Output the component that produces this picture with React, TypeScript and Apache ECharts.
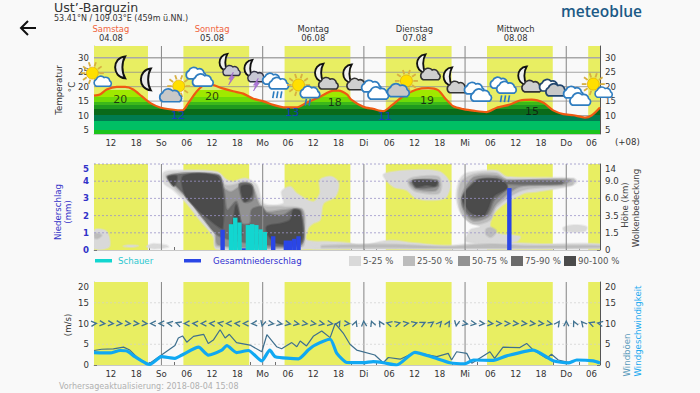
import React, { useEffect, useRef } from "react";
import * as echarts from "echarts";

const FONT = "'DejaVu Sans', sans-serif";
const hourTicks = [9, 12, 15, 18, 21, 24, 27, 30, 33, 36, 39, 42, 45, 48, 51, 54, 57, 60, 63, 66, 69, 72, 75, 78, 81, 84, 87, 90, 93, 96, 99, 102, 105, 108, 111, 114, 117, 120, 123, 126];
const hourLabelValues = [12, 18, 24, 30, 36, 42, 48, 54, 60, 66, 72, 78, 84, 90, 96, 102, 108, 114, 120, 126];
const hourLabels = ["12", "18", "So", "06", "12", "18", "Mo", "06", "12", "18", "Di", "06", "12", "18", "Mi", "06", "12", "18", "Do", "06"];
const midnights = [24, 48, 72, 96, 120];
const dayBands = [[8, 20.8], [29.2, 44.8], [53.2, 68.8], [77.2, 92.8], [101.2, 116.8], [125.2, 128]];
const dayNoon = [12, 36, 60, 84, 108];
const dayNames = ["Samstag", "Sonntag", "Montag", "Dienstag", "Mittwoch"];
const dayDates = ["04.08", "05.08", "06.08", "07.08", "08.08"];

const tempTicks = [5, 10, 15, 20, 25, 30];
const temperature = [[8, 16.9], [9.4, 17.3], [11, 19], [13.4, 19.9], [15.4, 19.9], [17.3, 19], [19.3, 16.7], [21.3, 14.4], [23.7, 12.8], [26.4, 12.1], [29, 11.8], [30.4, 14.4], [32.4, 18.4], [34, 20.4], [35.9, 20.6], [38.3, 19.5], [41, 18.4], [43.4, 17.6], [45.8, 15.8], [48.2, 14.9], [50.5, 13.7], [53.3, 12.8], [56, 12.8], [58.4, 14.4], [61.6, 16.5], [64.8, 18.6], [66, 18.6], [68, 17.3], [69, 15.5], [71.9, 13], [74.2, 12.3], [76.6, 11.5], [78.6, 13.5], [81.3, 16.7], [84.5, 19], [87.3, 19.5], [89.6, 18.8], [91.2, 16.1], [93.2, 13.2], [95.6, 12.2], [98.3, 11.6], [101.1, 11.2], [103.5, 12.7], [106.6, 13.8], [109, 15.2], [111.8, 15.5], [114.6, 14.4], [116.9, 11.8], [119.3, 10.5], [121.7, 10.1], [124.4, 9.3], [126, 10], [128, 12.8]];
const tempBandEdges = [3.6, 5, 8, 10.3, 12.4, 13.5, 14.6, 16.5, 19, 35];
const tempBandColors = ["#1cc41c", "#00bf64", "#007c50", "#0a6a1a", "#1f9a1f", "#3cb81a", "#6edb08", "#9fe900", "#d4f07a"];
const tempMarks = [[14.2, 15.6, "20", "#111"], [27.9, 10, "12", "#1a30e0"], [36, 16.6, "20", "#111"], [55, 11, "13", "#1a30e0"], [65.1, 14.5, "18", "#111"], [77, 9.7, "11", "#1a30e0"], [87, 15.2, "19", "#111"], [111.9, 11.4, "15", "#111"]];

const iconHours = [8.7, 14.2, 20.3, 27, 33, 39.8, 45.7, 51, 57.6, 62.5, 69.2, 74.6, 81, 86.7, 93, 99, 105, 110.7, 116.8, 122.5, 127.5];
const iconLevels = [23.5, 26.7, 22.5, 19, 23.5, 26, 23.9, 20.8, 19, 22.8, 22.5, 19, 20.8, 26, 21.5, 18.3, 19.4, 21.8, 19.7, 16.9, 19.7];
const iconKinds = ["sunCloud", "moon", "moon", "sunGray", "clouds", "moonBolt", "moonBolt", "cloudsRain", "sunRain", "moonCloud", "moonCloud", "clouds", "sunGray", "moonCloud", "moonCloud", "clouds", "cloudsRain", "moonCloud", "cloudsDark", "clouds", "sunCloud"];

const heightLevels = ["0", "1.5", "3.5", "6.0", "9.0", "14"];
const showerHours = [40, 41, 42, 44, 45, 46, 47, 48];
const showerValues = [1.5, 1.88, 1.6, 1.45, 1.5, 1.45, 1.2, 1.05];
const totalHours = [38, 43, 50, 53, 54, 55, 56, 106];
const totalValues = [1.18, 0.1, 0.8, 0.55, 0.55, 0.65, 0.8, 3.6];

// cloud cover contours: [hour, level on the 0–5 axis]
const cloud5to25 = [
  [[24.4, 4.46], [26, 4.61], [37.1, 4.55], [39.5, 4.07], [41, 3.97], [43.8, 4.17], [46.6, 3.78], [48.2, 2.71], [52.9, 2.71], [52.5, 3.39], [54.5, 3.68], [56.1, 3.29], [60, 2.81], [61.6, 3.29], [61.6, 4.07], [64.4, 4.26], [66, 3.88], [65.2, 3.1], [62.4, 2.71], [61.6, 1.74], [60, 1.55], [58.8, 1.26], [58.4, 0.58], [64, 0.48], [68.7, 0.39], [71, 0.16], [58, 0.05], [37, 0.05], [36.3, 0.78], [33.1, 1.74], [30, 2.71], [26.8, 3.49], [24.6, 3.88]],
  [[8.2, 1.16], [11, 1.07], [11.6, 0.19], [8, 0.1]],
  [[20.5, 0.2], [22, 0.36], [25, 0.28], [25.6, 0.18], [22, 0.08]],
  [[15, 0.22], [16, 0.27], [18.5, 0.25], [17, 0.18]],
  [[76.6, 4.36], [79, 4.55], [84.1, 4.65], [90, 4.55], [92.4, 3.88], [91.6, 3.1], [89.3, 2.91], [84.5, 3], [82.1, 3.49], [79, 3.68]],
  [[95.6, 4.36], [97.9, 4.55], [103.5, 4.61], [105.9, 4.26], [121.7, 4.17], [122.5, 3.97], [120.9, 3.72], [113, 3.39], [109.8, 3.29], [103.5, 2.33], [101.9, 1.45], [103.5, 0.97], [109, 0.78], [108.2, 0.5], [96.4, 0.48], [97.2, 1.16], [99.5, 1.36], [95.6, 1.94], [94, 2.91], [94.4, 3.88]],
  [[119.3, 1.3], [122, 1.45], [124.8, 1.35], [124.6, 1.12], [122, 1.05], [119.6, 1.1]],
  [[60, 0.3], [72, 0.3], [78, 0.55], [84, 0.4], [92, 0.25], [102, 0.5], [108, 0.4], [114, 0.35], [128, 0.35], [128, 0.08], [60, 0.08]],
];
const cloud25to50 = [
  [[25.2, 4.36], [37.1, 4.42], [39.1, 3.78], [41, 3.78], [43.8, 3.97], [45.8, 3.68], [47.8, 2.62], [52.9, 2.52], [57.6, 2.33], [58, 0.87], [57.3, 0.19], [37.1, 0.2], [36.7, 0.97], [33.5, 1.94], [30.4, 2.91], [27.2, 3.59]],
  [[8.2, 0.97], [9.8, 0.87], [9, 0.68], [8.2, 0.7]],
  [[82.5, 4.07], [84.9, 4.26], [89.7, 4.26], [90.4, 3.78], [89.7, 3.29], [84.5, 3.39], [82.9, 3.68]],
  [[96, 4.17], [98.3, 4.42], [103.5, 4.46], [105.9, 4.11], [121.7, 4.11], [121.3, 3.78], [109.8, 3.49], [103.5, 2.52], [101.9, 1.74], [97.9, 1.51], [95.2, 2.13], [94.4, 3.1], [94.9, 3.88]],
  [[101, 1.2], [102.2, 1.3], [103.4, 1.1], [102.2, 0.75], [101, 0.9]],
  [[62, 0.25], [78, 0.32], [92, 0.2], [102, 0.35], [110, 0.25], [128, 0.25], [128, 0.14], [62, 0.14]],
];
const cloud50to75 = [
  [[25.4, 4.26], [37.1, 4.32], [38.8, 3.59], [40.6, 3.39], [43.8, 3.88], [45.6, 3.59], [47.2, 2.62], [49, 2.23], [52.9, 2.33], [57.3, 2.33], [57.6, 0.78], [56.9, 0.23], [37.5, 0.29], [36.7, 1.07], [33.8, 1.94], [30.4, 3], [28, 3.68]],
  [[82.9, 3.97], [89.3, 4.07], [89.9, 3.78], [88.9, 3.45], [84.5, 3.53], [83.2, 3.78]],
  [[96.4, 3.78], [98.3, 4.26], [103.5, 4.3], [105.9, 4.07], [120.9, 4.07], [119.3, 3.82], [109, 3.68], [103.5, 2.71], [101.5, 1.94], [97.9, 1.71], [95.6, 2.33], [95.2, 3.1]],
];
const cloud75to90 = [
  [[25.6, 4.3], [37.5, 4.36], [38.8, 3.49], [39.6, 2.33], [41.8, 2.81], [43, 1.55], [45, 1.55], [45.4, 2.33], [47.8, 2.52], [49, 2.13], [52.9, 2.03], [55.3, 2.36], [57, 2.23], [57.3, 0.39], [49, 0.29], [37.9, 0.78], [33.9, 1.84], [30.4, 3], [28, 3.59]],
  [[42.5, 3.85], [45.4, 3.8], [45.6, 2.9], [43.5, 2.8], [42.7, 3.3]],
  [[83.5, 4.03], [89.3, 4.03], [89.4, 3.72], [84.5, 3.62]],
  [[105.5, 4], [119.3, 4], [118.8, 3.84], [105.8, 3.84]],
  [[97, 3.7], [99, 4.09], [103.5, 4.15], [105.5, 3.95], [106, 3.6], [102.9, 2.9], [101.3, 2.1], [97.9, 1.9], [95.8, 2.4], [95.3, 3]],
];
const cloud90to100 = [
  [[29.2, 4.3], [37.1, 4.3], [38.5, 3.39], [38.5, 1.26], [37.5, 1.36], [34.7, 1.9], [32.7, 2.33], [29.6, 3.2]],
  [[25.6, 4.26], [27.6, 4.3], [27, 3.72], [26, 3.97]],
  [[43, 3.72], [45.2, 3.72], [45.4, 3.2], [43.8, 2.81], [43, 3.29]],
  [[41.7, 2.62], [42.5, 1.94], [43, 0.87], [41, 1.16], [41.2, 1.94]],
  [[55.3, 2.33], [56.9, 2.23], [57, 0.48], [51.3, 0.39], [49.3, 0.87], [49, 1.36], [52.5, 1.55], [54.5, 1.74]],
  [[83.7, 4.03], [89.3, 3.97], [88.9, 3.72], [86.9, 3.78], [84.5, 3.68]],
  [[97.2, 3.68], [99.1, 4.07], [103.5, 4.11], [105.5, 3.88], [105.9, 3.59], [102.7, 3.1], [101.3, 2.33], [100.3, 2], [97.6, 2.13], [96, 2.62], [95.4, 3], [96.4, 3.49]],
];
const cloudLayers = [cloud5to25, cloud25to50, cloud50to75, cloud75to90, cloud90to100];
const cloudColors = ["#d9d9d9", "#bcbcbc", "#929292", "#6a6a6a", "#4b4b4b"];
const cloudLabels = ["5-25 %", "25-50 %", "50-75 %", "75-90 %", "90-100 %"];

const windSpeed = [[8, 3], [11.8, 2.9], [14.2, 3.5], [15.8, 3.4], [17.7, 2], [20.5, 0.3], [21.3, 0.15], [24, 2], [27.2, 1.6], [29.2, 2.6], [32.8, 4.3], [35.1, 2.4], [38.3, 3.6], [39.5, 4.7], [41.8, 3], [44.6, 3.5], [47.8, 1], [49.7, 3.6], [51, 2], [56.5, 1.5], [58.8, 3.6], [60.4, 4.8], [64, 6.2], [65.6, 2.8], [68, 0.6], [71.9, 0.55], [74.2, 0.8], [76.6, 0.55], [79.8, 0], [84.1, 3.05], [88.5, 1.8], [92.4, 0.55], [96, 0.3], [98, 1.2], [102.7, 1.1], [105.9, 2.2], [112.2, 3.6], [116.9, 1], [120.5, 0.5], [122.5, 1.2], [126.4, 1], [128, 0.5]];
const windGust = [[8, 3.5], [9.8, 3.8], [12.6, 3.9], [15, 4.3], [16.5, 3.6], [18.5, 1.6], [20.9, 0.2], [24, 2.4], [27.2, 4.7], [28, 6.5], [29, 7], [30, 5.5], [31.6, 6.9], [34, 7.4], [35.1, 5.2], [36.3, 6], [37.9, 8.5], [39.1, 6.5], [40.1, 7.4], [41.8, 5.4], [45, 4.8], [47.8, 3.2], [49, 7.3], [51.3, 4.4], [52.5, 3.9], [54.9, 5.4], [56.1, 4.4], [56.9, 5.8], [58.4, 4.6], [60, 6.9], [62, 8.2], [64, 6.6], [65.2, 10], [67.1, 7.7], [68.7, 5], [70.3, 3.6], [74.6, 2.4], [76.6, 0.55], [77.8, 1.8], [80.6, 1.4], [84.1, 3.05], [89.3, 2], [92, 2.8], [92.8, 1.2], [94, 3.2], [96.4, 2.8], [97.6, 0.4], [101.9, 3.2], [103, 1.6], [105, 4.3], [109, 4.2], [110.6, 5.2], [112.2, 3.6], [115.3, 1.6], [116.5, 2.6], [118.1, 1.2], [120.5, 0.65], [122.5, 1.2], [126.4, 1], [128, 0.5]];
const arrowHours = [8, 10, 12, 14, 16, 18, 20, 22, 24, 26, 28, 30, 32, 34, 36, 38, 40, 42, 44, 46, 48, 50, 52, 54, 56, 58, 60, 62, 64, 66, 68, 70, 72, 74, 76, 78, 80, 82, 84, 86, 88, 90, 92, 94, 96, 98, 100, 102, 104, 106, 108, 110, 112, 114, 116, 118, 120, 122, 124, 126, 128];
const arrowAngles = [5, -5, -5, -5, -5, -5, -5, 180, 180, 170, 160, 180, 175, 180, 175, 170, 180, 175, 180, 185, 255, -8, -10, -10, -10, -8, -8, -10, -8, 60, -5, 70, 95, 110, 120, 165, 15, 8, 15, 25, 35, 50, 60, 260, -10, -8, -5, -5, 0, 0, -5, -5, -5, -5, -10, 55, 90, 115, 130, 160, 170];

const LEFT = 94, RIGHT = 600;
const PANELS = [{ top: 46, height: 88 }, { top: 164, height: 86 }, { top: 282, height: 83 }];
const T_MIN = 3.6, T_MAX = 34.1;
const YELLOW = "#e8ee62";

const CLOUD = "M-8 6 A5 5 0 0 1 -8 -3 A6 6 0 0 1 2 -5 A5 5 0 0 1 9 -1 A4 4 0 0 1 9 6 Z";
const MOON = "M4 -9 C-7 -8 -7 8 4 9 C1 4 1 -4 4 -9 Z";
const BOLT = "M2 -5 L-2 1 L0 1 L-2 6 L3 -1 L1 -1 Z";

function path(d: string, cx: number, cy: number, w: number, h: number, fill: string, stroke: string, lw: number) {
  return { type: "path", shape: { pathData: d, x: cx - w / 2, y: cy - h / 2, width: w, height: h, layout: "center" }, style: { fill, stroke, lineWidth: lw } };
}
function sun(cx: number, cy: number) {
  const rays: any[] = [];
  for (let a = 0; a < 360; a += 36) {
    const r = (a * Math.PI) / 180;
    rays.push({ type: "line", shape: { x1: cx + 6 * Math.cos(r), y1: cy + 6 * Math.sin(r), x2: cx + 10 * Math.cos(r), y2: cy + 10 * Math.sin(r) }, style: { stroke: "#d8b040", lineWidth: 1.6 } });
  }
  return [...rays, { type: "circle", shape: { cx, cy, r: 5.2 }, style: { fill: "#ffdf00", stroke: "#e0a800", lineWidth: 0.6 } }];
}
function rain(cx: number, cy: number, n: number) {
  const out: any[] = [];
  for (let i = 0; i < n; i++) {
    out.push({ type: "line", shape: { x1: cx + i * 3.4 - 3.2, y1: cy, x2: cx + i * 3.4 - 4.2, y2: cy + 6 }, style: { stroke: "#2a7cc0", lineWidth: 1.4 } });
  }
  return out;
}
function drawIcon(kind: string): any[] {
  const BL = "#2f7dc0";
  switch (kind) {
    case "sunCloud":
      return [...sun(-4, -3), path(CLOUD, 5, 4, 15, 9, "#ffffff", BL, 1.4)];
    case "sunGray":
      return [...sun(4, -3), path(CLOUD, -3, 5, 19, 12, "#c8c8c8", BL, 1.5)];
    case "sunRain":
      return [...sun(-4, -4), path(CLOUD, 6, 2, 17, 10, "#ffffff", BL, 1.5), ...rain(6, 8, 2)];
    case "moon":
      return [path(MOON, 0, 0, 10, 19, "#e8e8e8", "#111", 1.7)];
    case "moonCloud":
      return [path(MOON, -4, -5, 9, 16, "#f0f0f0", "#111", 1.6), path(CLOUD, 4, 4, 17, 10, "#cfcfcf", "#333", 1.4)];
    case "moonBolt":
      return [path(MOON, -4, -6, 9, 15, "#f0f0f0", "#111", 1.6), path(CLOUD, 3, 1, 15, 9, "#c8c8d4", "#334", 1.3), path(BOLT, 3, 8, 6, 11, "#b078d8", "#9860c8", 0.5)];
    case "clouds":
      return [path(CLOUD, -3, -3, 17, 12, "#ffffff", BL, 1.5), path(CLOUD, 3, 3, 18, 12, "#ffffff", BL, 1.5)];
    case "cloudsDark":
      return [path(CLOUD, -3, -2, 17, 12, "#ffffff", "#22466e", 1.5), path(CLOUD, 3, 2, 18, 12, "#c8c8c8", "#22466e", 1.5)];
    case "cloudsRain":
      return [path(CLOUD, -3, -5, 16, 11, "#ffffff", BL, 1.5), path(CLOUD, 3, -1, 17, 11, "#ffffff", BL, 1.5), ...rain(2, 6, 3)];
    default:
      return [];
  }
}

const tempStops = () => {
  const toFrac = (t: number) => (T_MAX - t) / (T_MAX - T_MIN);
  const stops: any[] = [];
  for (let i = tempBandColors.length - 1; i >= 0; i--) {
    const hi = Math.min(tempBandEdges[i + 1], T_MAX), lo = tempBandEdges[i];
    stops.push({ offset: toFrac(hi), color: tempBandColors[i] }, { offset: toFrac(lo), color: tempBandColors[i] });
  }
  return stops;
};

function bandSeries(ax: number, yIdx: number, yMin: number, yMax: number) {
  return {
    type: "custom", xAxisIndex: ax, yAxisIndex: yIdx, z: 1, silent: true, clip: true,
    encode: { x: [0, 1] }, data: dayBands,
    renderItem: (_: any, api: any) => {
      const a = api.coord([api.value(0), yMax]), b = api.coord([api.value(1), yMin]);
      return { type: "rect", shape: { x: a[0], y: a[1], width: b[0] - a[0], height: b[1] - a[1] }, style: { fill: YELLOW } };
    },
  };
}
function midnightSeries(ax: number, yIdx: number, yMin: number, yMax: number, z: number) {
  return {
    type: "custom", xAxisIndex: ax, yAxisIndex: yIdx, z, silent: true,
    encode: { x: 0 }, data: midnights.map((m) => [m]),
    renderItem: (_: any, api: any) => {
      const a = api.coord([api.value(0), yMax]), b = api.coord([api.value(0), yMin]);
      return { type: "line", shape: { x1: a[0], y1: a[1], x2: b[0], y2: b[1] }, style: { stroke: "#8e8e8e", lineWidth: 1.1 } };
    },
  };
}
function hLineSeries(ax: number, yIdx: number, values: number[], z: number, style: any) {
  return {
    type: "custom", xAxisIndex: ax, yAxisIndex: yIdx, z, silent: true,
    encode: { y: 0 }, data: values.map((v) => [v]),
    renderItem: (_: any, api: any) => {
      const a = api.coord([8, api.value(0)]), b = api.coord([128, api.value(0)]);
      return { type: "line", shape: { x1: a[0], y1: a[1], x2: b[0], y2: b[1] }, style };
    },
  };
}

function xAxisFor(gridIndex: number, labelled: boolean) {
  return {
    type: "value", gridIndex, min: 8, max: 128, position: "bottom",
    axisLine: { show: true, lineStyle: { color: "#c8c8c8", width: 1 } },
    axisTick: { show: true, inside: true, length: 3, customValues: hourTicks, lineStyle: { color: "#333", width: 0.7 } },
    axisLabel: {
      show: labelled, customValues: hourLabelValues, margin: 4, fontSize: 8.6, color: "#333", fontFamily: FONT,
      formatter: (v: number) => hourLabels[hourLabelValues.indexOf(v)] ?? "",
    },
    splitLine: { show: false },
  };
}
function yAxisBase(gridIndex: number, position: string, color: string) {
  return {
    type: "value", gridIndex, position,
    axisLine: { show: true, onZero: false, lineStyle: { color: position === "right" ? "#555" : "#bbb", width: 1 } },
    axisTick: { show: true, inside: true, length: 3, lineStyle: { color: "#555", width: 0.7 } },
    axisLabel: { margin: 5, fontSize: 8.6, color, fontFamily: FONT },
    splitLine: { show: false },
  };
}

const txt = (text: string, x: number, y: number, fill: string, fontSize: number, extra: any = {}) => ({
  type: "text", x, y, z: 50, style: { text, fill, fontSize, fontFamily: FONT, textAlign: "left", textVerticalAlign: "middle", ...extra },
});
const rot = (text: string, x: number, y: number, fill: string, fontSize: number, align = "center") => ({
  type: "text", x, y, rotation: Math.PI / 2, z: 50, style: { text, fill, fontSize, fontFamily: FONT, textAlign: align, textVerticalAlign: "middle" },
});

export default function App() {
  const ref = useRef<HTMLDivElement>(null);
  useEffect(() => {
    document.body.style.margin = "0";
    const chart = echarts.init(ref.current!, undefined, { renderer: "svg" });
    const legendX = [349, 403, 458, 511, 564];
    const graphics: any[] = [
      txt("Ust’-Barguzin", 54, 7, "#333", 12.6),
      txt("53.41°N / 109.03°E (459m ü.NN.)", 54, 18, "#333", 8),
      txt("meteoblue", 561, 10.5, "#1c5a86", 15.5, { fontFamily: "'Open Sans', sans-serif", fontWeight: 600 }),
      { type: "polyline", z: 50, shape: { points: [[36, 28], [21, 28]] }, style: { stroke: "#111", lineWidth: 2, fill: "none" } },
      { type: "polyline", z: 50, shape: { points: [[28, 21], [21, 28], [28, 35]] }, style: { stroke: "#111", lineWidth: 2, fill: "none" } },
      txt("(+08)", 615, 142, "#333", 8.6),
      rot("Temperatur", 59, 90, "#333", 8.6),
      rot("°C", 72, 87, "#333", 8.6),
      rot("Niederschlag", 58, 212, "#3232c8", 8.6),
      rot("(mm)", 68, 212, "#3232c8", 8.6),
      rot("Höhe (km)", 625, 205, "#444", 8.6),
      rot("Wolkenbedeckung", 636, 208, "#444", 8.6),
      rot("(m/s)", 68, 325, "#333", 8.6),
      rot("Windböen", 627, 355, "#5d9cbc", 8.6),
      rot("Windgeschwindigkeit", 638, 331, "#22aaf0", 8.6),
      { type: "rect", z: 50, shape: { x: 95, y: 259, width: 17, height: 3.5 }, style: { fill: "#12d6d0" } },
      txt("Schauer", 118, 260.5, "#2cc8d0", 8.6),
      { type: "rect", z: 50, shape: { x: 184, y: 259, width: 17, height: 3.5 }, style: { fill: "#2a46e6" } },
      txt("Gesamtniederschlag", 213, 260.5, "#3030d0", 8.6),
      txt("Vorhersageaktualisierung: 2018-08-04 15:08", 59, 386, "#b0b0b0", 8),
    ];
    cloudLabels.forEach((label, i) => {
      graphics.push({ type: "rect", z: 50, shape: { x: legendX[i], y: 256, width: 12, height: 10 }, style: { fill: cloudColors[i] } });
      graphics.push(txt(label, legendX[i] + 14, 261, "#555", 8.6));
    });

    const series: any[] = [
      bandSeries(0, 0, T_MIN, T_MAX),
      bandSeries(1, 2, 0, 5),
      bandSeries(2, 4, 0, 20),
      hLineSeries(0, 0, [30], 2, { stroke: "#a8a8a8", lineWidth: 1.5 }),
      hLineSeries(0, 0, [5, 10, 15, 20, 25], 2, { stroke: "#8f8f8f", lineWidth: 0.8 }),
      midnightSeries(0, 0, T_MIN, T_MAX, 2),
      {
        type: "line", xAxisIndex: 0, yAxisIndex: 0, z: 3, data: temperature, smooth: 0.25, showSymbol: false, silent: true,
        lineStyle: { color: "#ef5a12", width: 2.2 },
        areaStyle: {
          origin: "start", opacity: 1,
          color: new echarts.graphic.LinearGradient(0, PANELS[0].top, 0, PANELS[0].top + PANELS[0].height, tempStops(), true),
        },
      },
      {
        type: "scatter", xAxisIndex: 0, yAxisIndex: 0, z: 5, symbolSize: 0, silent: true,
        data: tempMarks.map((m) => ({ value: [m[0], m[1]], label: { show: true, position: "inside", formatter: String(m[2]), color: m[3] as string, fontSize: 11, fontFamily: FONT } })),
      },
      {
        type: "custom", xAxisIndex: 0, yAxisIndex: 0, z: 6, silent: true, encode: { x: 0, y: 1 },
        data: iconHours.map((h, i) => [h, iconLevels[i], i]),
        renderItem: (_: any, api: any) => {
          const p = api.coord([api.value(0), api.value(1)]);
          return { type: "group", x: p[0], y: p[1], scaleX: 1.15, scaleY: 1.15, children: drawIcon(iconKinds[api.value(2)]) };
        },
      },
      ...cloudLayers.map((layer, li) => ({
        type: "custom", xAxisIndex: 1, yAxisIndex: 2, z: 3 + li * 0.1, silent: true, clip: true, encode: { x: 0 },
        data: layer.map((_, i) => [i]),
        renderItem: (_: any, api: any) => {
          const poly = layer[api.value(0)].map((pt) => api.coord(pt));
          return { type: "polygon", shape: { points: poly, smooth: 0.3 }, style: { fill: cloudColors[li], stroke: cloudColors[li], lineWidth: 2.2, strokeOpacity: 0.45 } };
        },
      })),
      midnightSeries(1, 2, 0, 5, 4),
      hLineSeries(1, 2, [1, 2, 3, 4, 5], 4, { stroke: "#9a94c8", lineWidth: 0.8, lineDash: [2, 2] }),
      {
        type: "bar", xAxisIndex: 1, yAxisIndex: 2, z: 5, barWidth: 4.4, barGap: "-100%", silent: true,
        itemStyle: { color: "#2a46e6" }, data: totalHours.map((h, i) => [h + 0.5, totalValues[i]]),
      },
      {
        type: "bar", xAxisIndex: 1, yAxisIndex: 2, z: 6, barWidth: 4.4, barGap: "-100%", silent: true,
        itemStyle: { color: "#12d6d0" }, data: showerHours.map((h, i) => [h + 0.5, showerValues[i]]),
      },
      midnightSeries(2, 4, 0, 20, 2),
      hLineSeries(2, 4, [5, 10, 15], 2, { stroke: "#cfcfcf", lineWidth: 0.7, lineDash: [2, 2] }),
      {
        type: "custom", xAxisIndex: 2, yAxisIndex: 4, z: 4, silent: true, encode: { x: 0, y: 1 },
        data: arrowHours.map((h, i) => [h, 10, arrowAngles[i]]),
        renderItem: (_: any, api: any) => {
          const p = api.coord([api.value(0), api.value(1)]);
          return {
            type: "group", x: p[0], y: p[1], rotation: (api.value(2) * Math.PI) / 180,
            children: [{ type: "polyline", shape: { points: [[-2.8, -2.6], [2.4, 0], [-2.8, 2.6]] }, style: { stroke: "#3f7291", lineWidth: 1.3, fill: "none" } }],
          };
        },
      },
      { type: "line", xAxisIndex: 2, yAxisIndex: 4, z: 5, data: windGust, showSymbol: false, silent: true, lineStyle: { color: "#3e6f8e", width: 1.2 } },
      { type: "line", xAxisIndex: 2, yAxisIndex: 4, z: 6, data: windSpeed, smooth: 0.2, showSymbol: false, silent: true, lineStyle: { color: "#10a8f2", width: 3.2 } },
    ];

    chart.setOption({
      animation: false,
      backgroundColor: "#f9f9f9",
      textStyle: { fontFamily: FONT },
      grid: PANELS.map((p) => ({ left: LEFT, width: RIGHT - LEFT, top: p.top, height: p.height, containLabel: false })),
      graphic: { elements: graphics },
      xAxis: [
        xAxisFor(0, true),
        xAxisFor(1, false),
        xAxisFor(2, true),
        {
          type: "value", gridIndex: 0, min: 8, max: 128, position: "top",
          axisLine: { show: false }, axisTick: { show: false }, splitLine: { show: false },
          axisLabel: {
            customValues: dayNoon, margin: 4, fontFamily: FONT,
            formatter: (v: number) => {
              const i = dayNoon.indexOf(v);
              return `{${i < 2 ? "we" : "wd"}|${dayNames[i]}}\n{d|${dayDates[i]}}`;
            },
            rich: {
              we: { fontSize: 8.4, lineHeight: 9, color: "#f0643c", fontFamily: FONT },
              wd: { fontSize: 8.4, lineHeight: 9, color: "#333", fontFamily: FONT },
              d: { fontSize: 8.4, lineHeight: 9, color: "#333", fontFamily: FONT },
            },
          },
        },
      ],
      yAxis: [
        { ...yAxisBase(0, "left", "#333"), min: T_MIN, max: T_MAX, axisTick: { ...yAxisBase(0, "left", "#333").axisTick, customValues: tempTicks }, axisLabel: { ...yAxisBase(0, "left", "#333").axisLabel, customValues: tempTicks } },
        { ...yAxisBase(0, "right", "#333"), min: T_MIN, max: T_MAX, axisTick: { ...yAxisBase(0, "right", "#333").axisTick, customValues: tempTicks }, axisLabel: { ...yAxisBase(0, "right", "#333").axisLabel, customValues: tempTicks } },
        {
          ...yAxisBase(1, "left", "#3232c8"), min: 0, max: 5, interval: 1,
          axisLabel: { ...yAxisBase(1, "left", "#3232c8").axisLabel, fontWeight: 600, verticalAlignMaxLabel: "top" },
        },
        {
          ...yAxisBase(1, "right", "#333"), min: 0, max: 5, interval: 1,
          axisLabel: { ...yAxisBase(1, "right", "#333").axisLabel, verticalAlignMaxLabel: "top", formatter: (v: number) => heightLevels[v] },
        },
        {
          ...yAxisBase(2, "left", "#333"), min: 0, max: 20, interval: 5,
          axisLabel: { ...yAxisBase(2, "left", "#333").axisLabel, verticalAlignMaxLabel: "top" },
        },
        {
          ...yAxisBase(2, "right", "#333"), min: 0, max: 20, interval: 5,
          axisLabel: { ...yAxisBase(2, "right", "#333").axisLabel, verticalAlignMaxLabel: "top" },
        },
      ],
      series,
    });
    return () => chart.dispose();
  }, []);
  return <div ref={ref} style={{ position: "fixed", left: 0, top: 0, width: 700, height: 393 }} />;
}
